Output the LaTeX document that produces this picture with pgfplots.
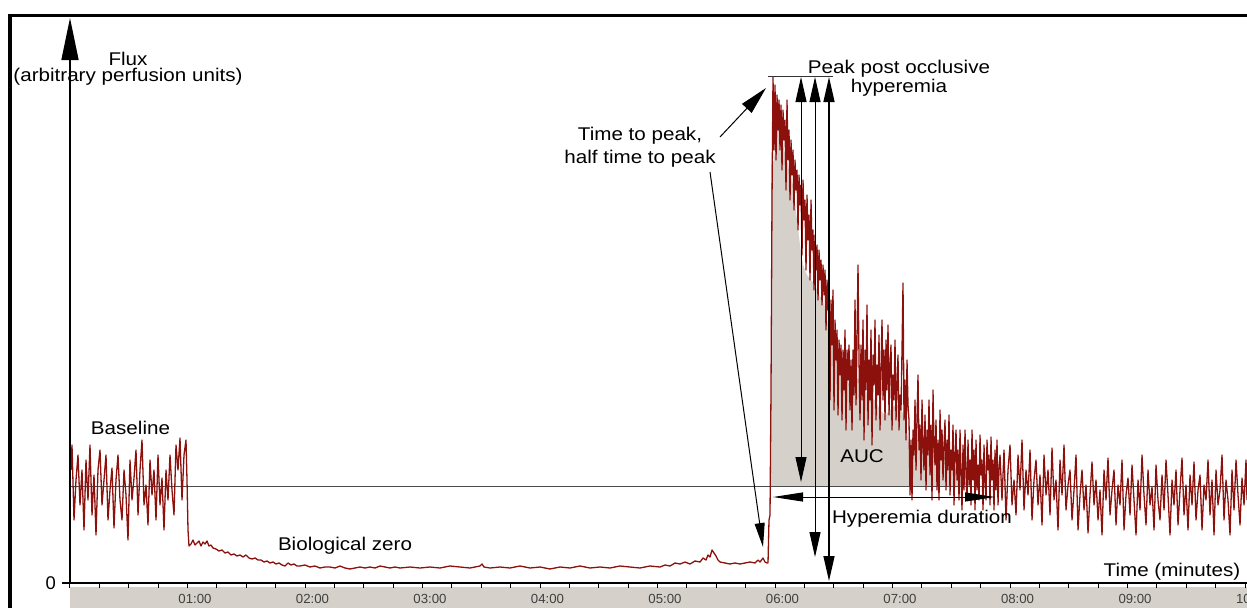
\documentclass[border=0pt]{standalone}
\usepackage{fontspec}
\setmainfont{Liberation Sans}
\usepackage{pgfplots}
\pgfplotsset{compat=1.18}
\usepackage{pgfplotstable}
\usetikzlibrary{arrows.meta}
\definecolor{trace}{RGB}{140,16,12}
\definecolor{band}{RGB}{213,209,202}

% trace: px = horizontal pixel, py = vertical pixel (image coords)
\pgfplotstableread{
px py
71 470
72 445
74 520
76 480
78 455
80 505
82 470
84 530
86 460
88 500
90 445
92 515
94 475
96 535
98 470
100 450
102 505
104 480
106 455
108 520
110 490
112 468
114 528
116 480
118 455
120 500
122 520
124 470
126 495
128 540
130 460
132 500
134 478
136 450
138 515
140 470
142 440
144 505
146 485
148 525
150 460
152 495
154 470
156 520
158 455
160 505
162 478
164 530
166 470
168 500
170 455
172 490
174 515
176 445
178 470
180 438
182 500
184 455
186 440
187 480
188 530
189 546
191 544
193 540
195 545
197 543
199 541
201 546
203 542
205 544
207 541
209 546
211 545
213 548
216 549
219 551
222 550
225 553
228 552
231 555
234 554
237 556
240 555
243 557
246 555
249 558
252 559
255 558
258 560
261 560
264 562
267 561
270 563
273 562
276 564
279 563
282 565
285 566
288 563
291 565
294 564
297 566
300 566
305 565
310 567
315 566
320 568
325 567
330 567
335 568
340 566
345 568
350 569
355 568
360 567
365 568
370 567
375 568
380 566
385 567
390 568
395 567
400 568
410 567
420 568
430 567
440 568
450 566
460 567
470 568
480 566
482 564
484 567
490 568
500 567
510 568
520 566
530 568
540 567
550 569
560 567
570 568
580 566
590 568
600 567
610 568
620 566
630 567
640 568
650 566
660 567
665 565
670 566
675 563
680 564
685 562
690 564
695 561
700 562
703 558
706 560
708 555
710 557
712 550
714 553
716 556
718 560
720 562
725 563
730 564
735 563
740 564
745 563
750 562
755 563
758 560
760 562
763 558
765 562
767 563
768 563
769 520
770 515
771 390
772 200
773 77
774 150
775 85
776 160
777 95
778 130
779 100
780 150
781 105
782 170
783 110
784 140
785 120
786 190
787 100
788 160
789 130
790 200
791 140
792 175
793 150
794 210
795 160
796 190
797 170
798 230
799 175
800 205
801 185
802 255
803 180
804 220
805 200
806 270
807 195
808 240
809 215
810 280
811 200
812 250
813 230
814 290
815 235
816 270
817 245
818 300
819 250
820 280
821 260
822 305
823 265
824 295
825 270
826 330
827 280
828 310
829 290
830 400
831 300
832 345
833 290
834 410
835 320
836 360
837 330
838 415
839 340
840 375
841 345
842 420
843 350
844 390
845 330
846 430
847 350
848 380
849 345
850 410
851 360
852 430
853 350
854 395
855 300
856 405
857 340
858 265
859 360
860 420
861 345
862 400
863 320
864 440
865 350
866 390
867 305
868 425
869 360
870 400
871 330
872 445
873 355
874 385
875 320
876 420
877 365
878 395
879 335
880 430
881 370
882 320
883 400
884 350
885 420
886 340
887 390
888 325
889 415
890 365
891 345
892 430
893 375
894 400
895 340
896 420
897 385
898 355
899 430
900 395
901 410
902 350
903 283
904 420
905 380
906 440
907 360
908 405
909 420
910 495
911 440
912 500
913 430
914 455
915 400
916 470
917 420
918 375
919 450
920 425
921 480
922 400
923 445
924 470
925 415
926 490
927 430
928 455
929 400
930 475
931 425
932 500
933 390
934 445
935 465
936 420
937 490
938 440
939 500
940 410
941 460
942 430
943 480
944 445
945 420
946 490
947 440
948 470
949 415
950 495
951 450
952 470
953 425
954 505
955 455
956 430
957 480
958 450
959 500
960 430
961 470
962 510
963 445
964 490
965 430
966 475
967 500
968 440
969 485
970 460
971 505
972 430
973 480
974 450
975 510
976 440
977 490
978 465
979 500
980 435
981 475
982 460
983 510
984 445
985 480
986 500
987 440
988 470
989 455
990 505
991 437
992 480
993 460
994 510
995 450
996 490
997 440
998 505
999 470
1000 455
1002 500
1004 450
1006 520
1008 470
1010 445
1012 505
1014 480
1016 515
1018 455
1020 490
1022 440
1024 510
1026 470
1028 495
1030 450
1032 520
1034 480
1036 460
1038 505
1040 475
1042 525
1044 455
1046 495
1048 470
1050 515
1052 448
1054 500
1056 480
1058 530
1060 460
1062 495
1064 445
1066 510
1068 485
1070 470
1072 520
1074 490
1076 455
1078 530
1080 495
1082 470
1084 510
1086 485
1088 533
1090 495
1092 462
1094 505
1096 480
1098 520
1100 490
1102 535
1104 470
1106 500
1108 458
1110 515
1112 490
1114 470
1116 525
1118 485
1120 505
1122 460
1124 530
1126 495
1128 478
1130 515
1132 465
1134 500
1136 535
1138 480
1140 510
1142 455
1144 495
1146 525
1148 470
1150 505
1152 487
1154 530
1156 465
1158 500
1160 520
1162 475
1164 510
1166 460
1168 495
1170 535
1172 480
1174 505
1176 470
1178 525
1180 490
1182 458
1184 515
1186 485
1188 530
1190 475
1192 505
1194 462
1196 520
1198 490
1200 475
1202 530
1204 485
1206 500
1208 460
1210 515
1212 480
1214 535
1216 470
1218 505
1220 490
1222 455
1224 520
1226 480
1228 500
1230 535
1232 470
1234 510
1236 460
1238 495
1240 525
1242 478
1244 505
1246 460
1247 500
}\trace

% area under the curve above the baseline level (AUC), same pixel units
\pgfplotstableread{
px py
771 486
771 165
774 160
777 125
780 130
784 150
787 160
790 175
793 185
797 220
800 245
803 265
807 275
811 280
815 285
819 295
823 300
827 320
830 335
835 355
840 370
845 380
850 385
855 380
860 378
865 390
870 398
875 400
880 410
885 415
890 410
895 405
900 405
905 420
910 450
915 440
920 440
925 445
930 440
935 450
940 455
945 458
950 460
955 468
960 475
965 482
970 486
}\auc

\tikzset{lab/.style={font=\fontsize{9.2}{10}\selectfont, xscale=1.12, anchor=base, inner sep=0pt}}

\begin{document}
\begin{tikzpicture}
\useasboundingbox (-35pt,-12pt) rectangle (588.5pt,291.5pt);
\begin{axis}[
  at={(0,0)}, anchor=south west,
  scale only axis, width=588.5pt, height=282.5pt,
  xmin=0, xmax=601.02, ymin=0, ymax=565,
  axis lines=left,
  axis on top,
  clip=false,
  x axis line style={-, line width=0.75pt},
  y axis line style={-{Triangle[length=21pt,width=8.5pt]}, line width=0.75pt},
  xtick={60,120,...,600},
  xticklabels={01:00,02:00,03:00,04:00,05:00,06:00,07:00,08:00,09:00,10:00},
  minor xtick={0,15,...,600},
  ytick={0}, yticklabels={0},
  y tick style={draw=none},
  tick align=outside,
  major tick length=2.5pt, minor tick length=2.5pt,
  x tick style={black, line width=0.5pt},
  xticklabel style={font=\fontsize{6.6}{7}\selectfont, text=black!75, xshift=3.75pt, yshift=0.5pt},
  yticklabel style={font=\fontsize{9.2}{10}\selectfont, xshift=-1pt},
]
% grey band under the time axis
\fill[band] (axis cs:0,-3.5) rectangle (axis cs:601.02,-30);
% AUC area
\addplot[fill=band, draw=none] table[x expr=(\thisrow{px}-70)*0.510638, y expr=583-\thisrow{py}] {\auc};
% baseline level
\draw[black!70, line width=0.5pt] (axis cs:0,97) -- (axis cs:601.02,97);
% flux trace
\addplot[trace, line width=0.65pt, line join=round, mark=none] table[x expr=(\thisrow{px}-70)*0.510638, y expr=583-\thisrow{py}] {\trace};
% y tick
\draw[line width=0.6pt] (axis cs:0,0) -- ++(-4pt,0);

% annotations
\node[lab] at (axis cs:29.62,518) {Flux};
\node[lab] at (axis cs:29.62,502) {(arbitrary perfusion units)};
\node[lab] at (axis cs:30.89,149) {Baseline};
\node[lab] at (axis cs:140.43,33) {Biological zero};
\node[lab] at (axis cs:291.06,443) {Time to peak,};
\node[lab] at (axis cs:291.06,420) {half time to peak};
\node[lab] at (axis cs:423.32,510) {Peak post occlusive};
\node[lab] at (axis cs:423.32,491) {hyperemia};
\node[lab] at (axis cs:404.43,121) {AUC};
\node[lab] at (axis cs:435.06,60) {Hyperemia duration};
\node[lab] at (axis cs:562.72,7) {Time (minutes)};

\draw[line width=0.5pt, -{Triangle[length=14pt,width=6.5pt]}] (axis cs:331.91,446) -- (axis cs:355.40,495);
\draw[line width=0.5pt, -{Triangle[length=12pt,width=5pt]}] (axis cs:326.81,411) -- (axis cs:353.87,36);
\draw[black!80, line width=0.5pt] (axis cs:356.43,507) -- (axis cs:389.62,507);
\draw[line width=0.5pt, {Triangle[length=12.5pt,width=5.5pt]}-{Triangle[length=12.5pt,width=5.5pt]}] (axis cs:373.28,506) -- (axis cs:373.28,101);
\draw[line width=0.5pt, {Triangle[length=12.5pt,width=5.5pt]}-{Triangle[length=12.5pt,width=5.5pt]}] (axis cs:380.43,506) -- (axis cs:380.43,26);
\draw[line width=0.7pt, {Triangle[length=12.5pt,width=5.5pt]}-{Triangle[length=12.5pt,width=5.5pt]}] (axis cs:387.57,506) -- (axis cs:387.57,2);
\draw[line width=0.5pt, {Triangle[length=15pt,width=4.5pt]}-{Triangle[length=15pt,width=4.5pt]}] (axis cs:358.98,86) -- (axis cs:472.34,86);
\end{axis}
% outer frame
\draw[line width=1.75pt] (-30pt,283.75pt) rectangle (600pt,-20pt);
\end{tikzpicture}
\end{document}
